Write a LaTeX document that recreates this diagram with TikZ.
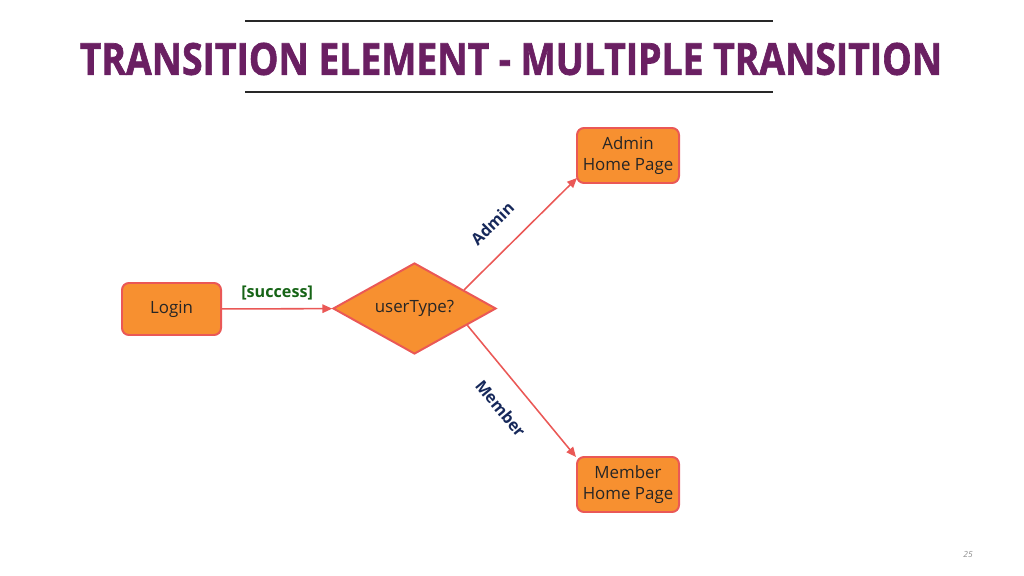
\documentclass[tikz,border=0pt]{standalone}
\usepackage{fontspec}
\setmainfont{Open Sans}
\newfontfamily\titlefont{Open Sans}[BoldFeatures={FakeBold=1.6}]
\usetikzlibrary{arrows.meta,positioning,shapes.geometric,calc}
\definecolor{slidepurple}{RGB}{106,31,98}
\definecolor{boxorange}{RGB}{247,144,48}
\definecolor{boxred}{RGB}{234,88,86}
\definecolor{guardgreen}{RGB}{22,100,22}
\definecolor{choicenavy}{RGB}{22,40,90}
\definecolor{rulegray}{RGB}{40,40,40}

\begin{document}
\begin{tikzpicture}[x=0.025cm, y=-0.025cm,
  pagebox/.style={draw=boxred, fill=boxorange, line width=1.4pt, rounded corners=5pt, align=center, text=black!85, font=\fontsize{12}{14.5}\selectfont},
  decision/.style={diamond, draw=boxred, fill=boxorange, line width=1.4pt, aspect=1.8, inner sep=0pt, minimum width=4.075cm, minimum height=2.275cm, text=black!85, font=\fontsize{12}{14.5}\selectfont},
  flow/.style={draw=boxred, line width=1.1pt, -{Triangle[length=7pt, width=6pt]}},
  guard/.style={font=\fontsize{11.5}{13}\selectfont\bfseries, text=guardgreen},
  choice/.style={font=\fontsize{11.5}{13}\selectfont\bfseries, text=choicenavy},
  titlerule/.style={draw=rulegray, line width=1.1pt}]
  \useasboundingbox (0,0) rectangle (1024,576);

  %% Title
  \node[text=slidepurple, inner sep=0pt] (title) at (511,59) {\resizebox{21.55cm}{0.8cm}{\titlefont\bfseries TRANSITION ELEMENT - MULTIPLE TRANSITION}};
  \draw[titlerule] (245,21) -- (773,21);
  \draw[titlerule] (245,92) -- (773,92);

  %% States
  \node[pagebox, minimum width=2.475cm, minimum height=1.3cm] (login) at (171.5,309) {Login};
  \node[decision] (usertype) at (414.5,308.5) {userType?};
  \node[pagebox, minimum width=2.55cm, minimum height=1.375cm] (admin) at (628,155.5) {Admin\\Home Page};
  \node[pagebox, minimum width=2.55cm, minimum height=1.375cm] (member) at (628,484.5) {Member\\Home Page};

  %% Transitions
  \coordinate (upperexit) at ($(usertype.north)!0.6!(usertype.east)$);
  \coordinate (lowerexit) at ($(usertype.east)!0.36!(usertype.south)$);
  \coordinate (admintip) at ($(admin.south west)+(1,-6)$);
  \coordinate (membertip) at ($(member.north west)+(0,1)$);

  \draw[flow] (login) -- node[above=2pt, guard] {[success]} (usertype);
  \draw[flow] (upperexit) -- node[pos=0.42, sloped, above=11pt, choice] {Admin} (admintip);
  \draw[flow] (lowerexit) -- node[pos=0.5, sloped, below=11pt, choice] {Member} (membertip);

  %% Slide number
  \node[font=\fontsize{6}{7}\selectfont\itshape, text=black!45] (slideno) at (968,554) {25};
\end{tikzpicture}
\end{document}
